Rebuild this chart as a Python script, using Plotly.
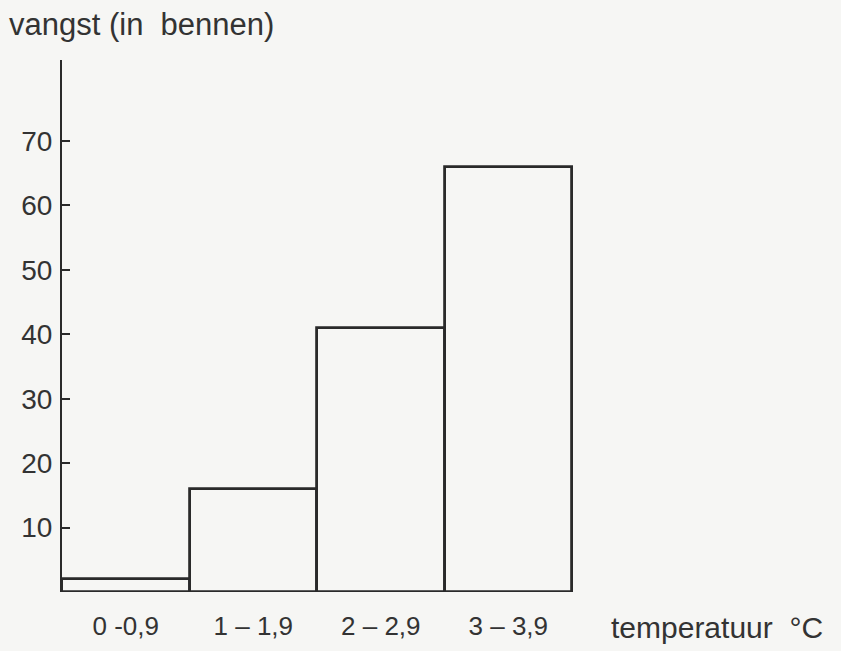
import plotly.graph_objects as go

categories = ["0 -0,9", "1 – 1,9", "2 – 2,9", "3 – 3,9"]
catch_values = [2, 16, 41, 66]
y_ticks = [10, 20, 30, 40, 50, 60, 70]
x_title = "temperatuur  °C"
y_title = "vangst (in  bennen)"

ink = "#333333"
line_ink = "#2a2a2a"
bg = "#f6f6f4"
tick_font = "Liberation Sans Narrow, Liberation Sans, Arial, sans-serif"
text_font = "Liberation Sans, Arial, sans-serif"

xpos = list(range(len(categories)))

fig = go.Figure(
    go.Bar(
        x=xpos,
        y=catch_values,
        width=1,
        marker=dict(color="rgba(0,0,0,0)", line=dict(color=line_ink, width=2.8)),
        hoverinfo="x+y",
    )
)

fig.update_layout(
    width=841,
    height=651,
    paper_bgcolor=bg,
    plot_bgcolor=bg,
    margin=dict(l=62, r=5, t=60, b=59),
    showlegend=False,
    font=dict(family=tick_font, size=27, color=ink),
    bargap=0,
)

fig.update_xaxes(
    range=[-0.5, 5.57],
    tickvals=xpos,
    ticktext=categories,
    showgrid=False,
    zeroline=False,
    showline=False,
    ticks="",
    ticklabelstandoff=16,
    tickfont=dict(family=tick_font, size=26, color=ink),
)

fig.update_yaxes(
    range=[0, 82.57],
    tickvals=y_ticks,
    ticktext=[str(v) for v in y_ticks],
    showgrid=False,
    zeroline=False,
    showline=True,
    linecolor=line_ink,
    linewidth=2,
    ticks="inside",
    ticklen=8,
    tickwidth=2,
    tickcolor=line_ink,
    ticklabelstandoff=2,
    tickfont=dict(family=tick_font, size=28, color=ink),
)

fig.add_annotation(
    text=x_title,
    xref="x", yref="paper",
    x=4.64, y=-(627 - 592) / 532,
    xanchor="center", yanchor="middle",
    showarrow=False,
    font=dict(family=text_font, size=30, color=ink),
)

fig.add_annotation(
    text=y_title,
    xref="paper", yref="paper",
    x=(7 - 62) / 774, y=1 + (60 - 25) / 532,
    xanchor="left", yanchor="middle",
    showarrow=False,
    font=dict(family=text_font, size=31, color=ink),
)

fig.write_html(
    "out.html",
    config={"displayModeBar": False},
    post_script="document.body.style.margin='0';document.body.style.background='#f6f6f4';",
)
